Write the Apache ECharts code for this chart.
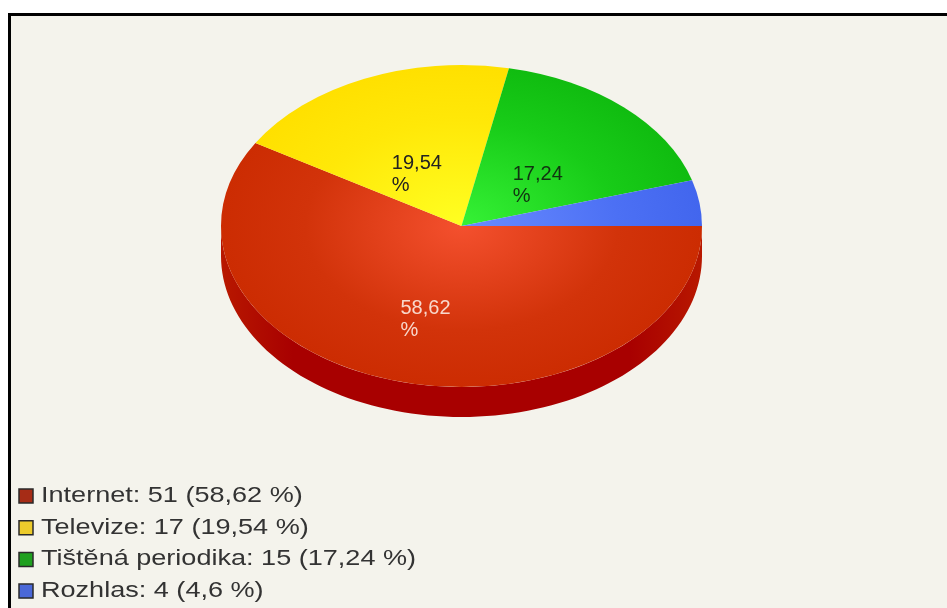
<!DOCTYPE html>
<html>
<head>
<meta charset="utf-8">
<style>html,body{margin:0;padding:0;background:#fff}#chart{width:947px;height:608px}</style>
<script src="https://cdn.jsdelivr.net/npm/echarts@6/dist/echarts.min.js"></script>
</head>
<body>
<div id="chart"></div>
<script>
// Survey answers: where respondents get their information
const categories = ['Internet', 'Televize', 'Tištěná periodika', 'Rozhlas'];
const counts = [51, 17, 15, 4];
const percents = [58.62, 19.54, 17.24, 4.6];

// Layout of the tilted pie
const cx = 461.5, cy = 226, rx = 240.5, ry = 161, depth = 30;
const tilt = ry / rx;
const total = counts.reduce((a, b) => a + b, 0);
const fontFamily = '"Liberation Sans", Arial, sans-serif';

// Gradient stops per slice: bright at the hub, deeper at the rim
const sliceStops = [
  ['#f4502e', '#d2330a', '#cc2c02'],
  ['#ffff22', '#ffe808', '#ffe000'],
  ['#36f236', '#18cc18', '#10bc10'],
  ['#6a8cff', '#4c70f4', '#4266ee']
];
const swatchFill = ['#a62c16', '#eccb2c', '#1fa01f', '#4a68d8'];
const labelFill = ['#f8d8cc', '#222', '#113311', null];
// Label box centre as a fraction of the radius along the slice's mid direction
const labelReach = [[0.56, 0.60], [0.46, 0.35], [0.47, 0.34], null];

const fmt = v => String(v).replace('.', ',');

function startFraction(i) {
  let s = 0;
  for (let k = 0; k < i; k++) s += counts[k];
  return s / total;
}

function renderSlice(params, api) {
  const i = params.dataIndex;
  const a0 = startFraction(i) * Math.PI * 2;
  const a1 = a0 + api.value(0) / total * Math.PI * 2;
  const mid = (a0 + a1) / 2;
  const children = [{
    type: 'sector',
    x: cx, y: cy, scaleY: tilt,
    shape: { cx: 0, cy: 0, r0: 0, r: rx, startAngle: a0, endAngle: a1, clockwise: true },
    style: {
      fill: new echarts.graphic.RadialGradient(0, 0, rx, [
        { offset: 0, color: sliceStops[i][0] },
        { offset: 0.65, color: sliceStops[i][1] },
        { offset: 1, color: sliceStops[i][2] }
      ], true)
    }
  }];
  if (labelReach[i]) {
    children.push({
      type: 'text',
      x: cx + Math.cos(mid) * rx * labelReach[i][0],
      y: cy + Math.sin(mid) * ry * labelReach[i][1],
      z2: 10,
      style: {
        text: fmt(percents[i]) + '\n%',
        x: -25, y: 0,
        fill: labelFill[i],
        font: '20px ' + fontFamily,
        lineHeight: 22,
        align: 'left',
        verticalAlign: 'middle'
      }
    });
  }
  return { type: 'group', children };
}

// Rim visible below the front half of the disc
function renderRim() {
  const pts = [];
  for (let d = 0; d <= 180; d += 2) {
    const t = d * Math.PI / 180;
    pts.push([cx + rx * Math.cos(t), cy + ry * Math.sin(t)]);
  }
  for (let d = 180; d >= 0; d -= 2) {
    const t = d * Math.PI / 180;
    pts.push([cx + rx * Math.cos(t), cy + depth + ry * Math.sin(t)]);
  }
  return {
    type: 'polygon',
    shape: { points: pts },
    style: {
      fill: new echarts.graphic.LinearGradient(0, 0, 1, 0, [
        { offset: 0, color: '#b81800' },
        { offset: 0.15, color: '#a80000' },
        { offset: 0.85, color: '#a80000' },
        { offset: 1, color: '#b81800' }
      ])
    }
  };
}

function renderLegend(params, api) {
  const i = params.dataIndex;
  const rowY = 496 + i * 31.7;
  return {
    type: 'group',
    children: [{
      type: 'rect',
      shape: { x: 19, y: rowY - 7, width: 14, height: 14 },
      style: { fill: swatchFill[i], stroke: '#2a2a2a', lineWidth: 1.5 }
    }, {
      type: 'text',
      x: 41, y: rowY, scaleX: 1.23,
      style: {
        text: categories[i] + ': ' + api.value(0) + ' (' + fmt(percents[i]) + ' %)',
        fill: '#333',
        font: '22px ' + fontFamily,
        align: 'left',
        verticalAlign: 'middle'
      }
    }]
  };
}

const chart = echarts.init(document.getElementById('chart'), null, { renderer: 'canvas' });
chart.setOption({
  animation: false,
  backgroundColor: '#fff',
  graphic: [
    { type: 'rect', z: -10, shape: { x: 8, y: 13, width: 939, height: 595 }, style: { fill: '#000' } },
    { type: 'rect', z: -9, shape: { x: 11, y: 16, width: 936, height: 592 }, style: { fill: '#f4f3ec' } }
  ],
  series: [
    { type: 'custom', coordinateSystem: 'none', z: 2, silent: true, data: [0], renderItem: renderRim },
    { type: 'custom', coordinateSystem: 'none', z: 3, silent: true, data: counts, renderItem: renderSlice },
    { type: 'custom', coordinateSystem: 'none', z: 4, silent: true, data: counts, renderItem: renderLegend }
  ]
});
</script>
</body>
</html>
